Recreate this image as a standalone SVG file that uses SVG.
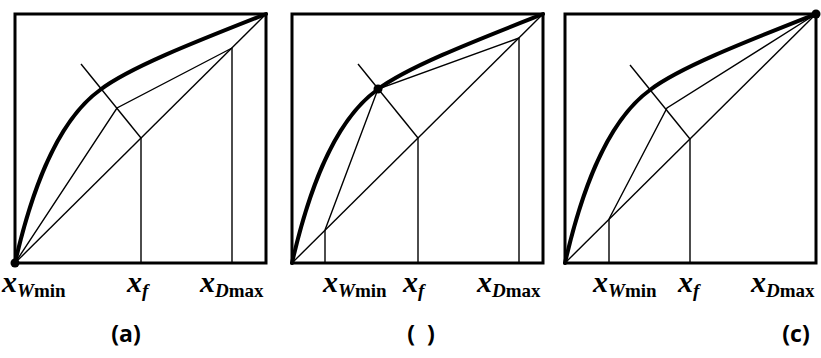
<svg xmlns="http://www.w3.org/2000/svg" width="821" height="358" viewBox="0 0 821 358">
<style>
.frame{fill:none;stroke:#000;stroke-width:3}
.thin{fill:none;stroke:#000;stroke-width:1.4}
.curve{fill:none;stroke:#000;stroke-width:4;stroke-linecap:round}
text.lbl{font-family:"Liberation Serif","Times New Roman",serif;font-weight:bold;fill:#000}
tspan.xx{font-size:30px;font-style:italic}
tspan.sub{font-size:19px}
tspan.it{font-style:italic}
text.cap{font-family:"Open Sans","Noto Sans",sans-serif;font-weight:bold;font-size:23px;fill:#000;text-anchor:middle}
</style>
<defs>
<path id="eq" d="M0,249 C14,188 38,110 85,76 C115,53 185,26 251,0"/>
</defs>
<rect width="821" height="358" fill="#fff"/>

<g id="panel-a" transform="translate(15,14)">
<rect class="frame" x="0" y="0" width="251" height="249"/>
<g id="connectors-a">
<line class="thin" x1="0" y1="249" x2="251" y2="0"/>
<line class="thin" x1="126" y1="249" x2="126" y2="124"/>
<line class="thin" x1="126" y1="124" x2="66" y2="50"/>
<line class="thin" x1="217" y1="249" x2="217" y2="34"/>
<polyline class="thin" points="0,249 102,94 217,34"/>
</g>
<use href="#eq" class="curve"/>
<circle cx="0" cy="249" r="4.5" fill="#000"/>
</g>

<g id="panel-b" transform="translate(292,14)">
<rect class="frame" x="0" y="0" width="251" height="249"/>
<g id="connectors-b">
<line class="thin" x1="0" y1="249" x2="251" y2="0"/>
<line class="thin" x1="126" y1="249" x2="126" y2="124"/>
<line class="thin" x1="126" y1="124" x2="66" y2="50"/>
<line class="thin" x1="33" y1="249" x2="33" y2="216"/>
<line class="thin" x1="227" y1="249" x2="227" y2="24"/>
<polyline class="thin" points="33,216 86,75 227,24"/>
</g>
<use href="#eq" class="curve"/>
<circle cx="86" cy="75" r="4.5" fill="#000"/>
</g>

<g id="panel-c" transform="translate(565,14)">
<rect class="frame" x="0" y="0" width="251" height="249"/>
<g id="connectors-c">
<line class="thin" x1="0" y1="249" x2="251" y2="0"/>
<line class="thin" x1="125" y1="249" x2="125" y2="125"/>
<line class="thin" x1="125" y1="125" x2="65" y2="51"/>
<line class="thin" x1="44" y1="249" x2="44" y2="205"/>
<polyline class="thin" points="44,205 102,94 251,0"/>
</g>
<use href="#eq" class="curve"/>
<circle cx="251" cy="0" r="4.5" fill="#000"/>
</g>

<g id="labels-a">
<text class="lbl" x="2" y="292"><tspan class="xx">x</tspan><tspan class="sub it" dy="5">W</tspan><tspan class="sub">min</tspan></text>
<text class="lbl" x="127" y="292"><tspan class="xx">x</tspan><tspan class="sub it" dy="5">f</tspan></text>
<text class="lbl" x="200" y="292"><tspan class="xx">x</tspan><tspan class="sub it" dy="5">D</tspan><tspan class="sub">max</tspan></text>
</g>
<g id="labels-b">
<text class="lbl" x="323" y="292"><tspan class="xx">x</tspan><tspan class="sub it" dy="5">W</tspan><tspan class="sub">min</tspan></text>
<text class="lbl" x="403" y="292"><tspan class="xx">x</tspan><tspan class="sub it" dy="5">f</tspan></text>
<text class="lbl" x="477" y="292"><tspan class="xx">x</tspan><tspan class="sub it" dy="5">D</tspan><tspan class="sub">max</tspan></text>
</g>
<g id="labels-c">
<text class="lbl" x="593" y="292"><tspan class="xx">x</tspan><tspan class="sub it" dy="5">W</tspan><tspan class="sub">min</tspan></text>
<text class="lbl" x="678" y="292"><tspan class="xx">x</tspan><tspan class="sub it" dy="5">f</tspan></text>
<text class="lbl" x="751" y="292"><tspan class="xx">x</tspan><tspan class="sub it" dy="5">D</tspan><tspan class="sub">max</tspan></text>
</g>

<g id="captions">
<text class="cap" x="126" y="342">(a)</text>
<text class="cap" x="421" y="342" xml:space="preserve">(  )</text>
<text class="cap" x="796" y="342">(c)</text>
</g>
</svg>
